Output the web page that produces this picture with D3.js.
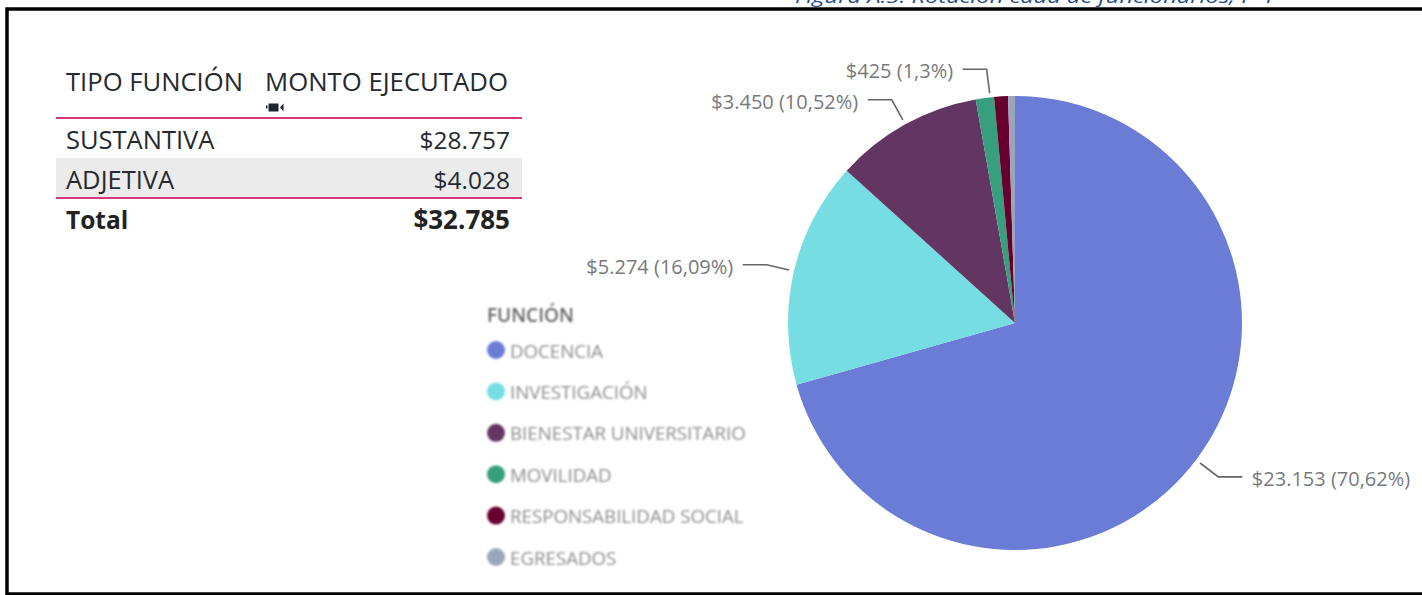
<!DOCTYPE html>
<html>
<head>
<meta charset="utf-8">
<script src="https://cdn.jsdelivr.net/npm/d3@7"></script>
<style>
html, body { margin: 0; padding: 0; background: #fff; overflow: hidden; }
svg { display: block; }
text { font-family: "Open Sans", "Noto Sans", sans-serif; }
</style>
</head>
<body>
<script>
var funciones = ["DOCENCIA", "INVESTIGACIÓN", "BIENESTAR UNIVERSITARIO", "MOVILIDAD", "RESPONSABILIDAD SOCIAL", "EGRESADOS"];
var montos = [23153, 5274, 3450, 425, 323, 160];
var etiquetas = ["$23.153 (70,62%)", "$5.274 (16,09%)", "$3.450 (10,52%)", "$425 (1,3%)", null, null];
var colores = ["#6b7cd6", "#76dee3", "#633563", "#379f7d", "#68002f", "#9aa5bc"];

var tipos = ["SUSTANTIVA", "ADJETIVA"];
var tipoMontos = ["$28.757", "$4.028"];
var encabezados = ["TIPO FUNCIÓN", "MONTO EJECUTADO"];
var totalFila = ["Total", "$32.785"];
var leyendaTitulo = "FUNCIÓN";
var figuraTitulo = "Figura A.5. Rotación cada de funcionarios, P-1";

var width = 1422, height = 595;
var svg = d3.select("body").append("svg").attr("width", width).attr("height", height);

var defs = svg.append("defs");
defs.append("filter").attr("id", "borroso")
    .attr("filterUnits", "userSpaceOnUse")
    .attr("x", 470).attr("y", 295).attr("width", 300).attr("height", 285)
    .append("feGaussianBlur").attr("stdDeviation", 1);

// caption cut off by the top of the page
svg.append("text")
    .attr("x", 795).attr("y", 3)
    .attr("font-size", 19).attr("font-style", "italic")
    .attr("fill", "#1f4e84")
    .attr("textLength", 480).attr("lengthAdjust", "spacingAndGlyphs")
    .text(figuraTitulo);

// black frame, runs off the right side
svg.append("path")
    .attr("d", "M1424,9 H7 V594 H1424")
    .attr("fill", "none").attr("stroke", "#000").attr("stroke-width", 3.5);

// table
var tabla = svg.append("g");
var filaY = d3.scaleBand().domain(tipos.concat(["Total"])).range([118, 238]);
var colorTexto = "#252a30";

tabla.append("rect")
    .attr("x", 56).attr("width", 466)
    .attr("y", filaY("ADJETIVA")).attr("height", filaY.bandwidth())
    .attr("fill", "#ebebeb");

tabla.append("text").attr("x", 66).attr("y", 91).attr("font-size", 25).attr("fill", colorTexto)
    .attr("textLength", 177).attr("lengthAdjust", "spacingAndGlyphs").text(encabezados[0]);
tabla.append("text").attr("x", 265).attr("y", 91).attr("font-size", 25).attr("fill", colorTexto)
    .attr("textLength", 243).attr("lengthAdjust", "spacingAndGlyphs").text(encabezados[1]);

// little camera under the header
tabla.append("rect").attr("x", 266).attr("y", 105.5).attr("width", 1.5).attr("height", 3).attr("fill", "#1c2530");
tabla.append("rect").attr("x", 268.5).attr("y", 103.5).attr("width", 10).attr("height", 8).attr("fill", "#1c2530");
tabla.append("path").attr("d", "M280,107.5 L283.5,103.5 V111.5 Z").attr("fill", "#1c2530");

tipos.forEach(function(t, i) {
    tabla.append("text").attr("x", 66).attr("y", filaY(t) + 30.5)
        .attr("font-size", 25.5).attr("fill", colorTexto).text(t);
    tabla.append("text").attr("x", 510).attr("y", filaY(t) + 30.5).attr("text-anchor", "end")
        .attr("font-size", 24.5).attr("fill", colorTexto).text(tipoMontos[i]);
});
tabla.append("text").attr("x", 66).attr("y", filaY("Total") + 30.5)
    .attr("font-size", 24.5).attr("font-weight", 700).attr("fill", "#222").text(totalFila[0]);
tabla.append("text").attr("x", 510).attr("y", filaY("Total") + 30.5).attr("text-anchor", "end")
    .attr("font-size", 26).attr("font-weight", 700).attr("fill", "#222").text(totalFila[1]);

[filaY("SUSTANTIVA"), filaY("Total")].forEach(function(y) {
    tabla.append("line").attr("x1", 56).attr("x2", 522).attr("y1", y).attr("y2", y)
        .attr("stroke", "#d6377f").attr("stroke-width", 2);
});

// pie
var cx = 1015, cy = 323, radio = 227;
var pie = d3.pie().sort(null).value(function(d) { return d; });
var arc = d3.arc().innerRadius(0).outerRadius(radio);
var arcos = pie(montos);
var color = d3.scaleOrdinal().domain(funciones).range(colores);

var g = svg.append("g").attr("transform", "translate(" + cx + "," + cy + ")");
g.selectAll("path.slice").data(arcos).enter().append("path")
    .attr("class", "slice")
    .attr("d", arc)
    .attr("fill", function(d, i) { return color(funciones[i]); });

// leader lines start just off the rim and bend towards the label
var arcoInicio = d3.arc().innerRadius(radio + 5).outerRadius(radio + 5);
var arcoCodo = d3.arc().innerRadius(radio + 28).outerRadius(radio + 28);
var linea = d3.line();

arcos.forEach(function(d, i) {
    if (!etiquetas[i]) return;
    var a = arcoInicio.centroid(d), b = arcoCodo.centroid(d);
    var lado = b[0] > 0 ? 1 : -1;
    // the $425 leader sits a bit right of and above its slice middle
    var esChico = etiquetas[i].indexOf("$425") == 0;
    if (esChico) { a[0] += 5.5; b[0] += 5.5; b[1] -= 1; }
    var c = [b[0] + lado * 24, b[1]];
    g.append("path")
        .attr("d", linea([a, b, c]))
        .attr("fill", "none").attr("stroke", "#666").attr("stroke-width", 1.6);
    g.append("text")
        .attr("x", c[0] + lado * 9.5).attr("y", c[1] + (esChico ? 8.5 : 9.5))
        .attr("text-anchor", lado > 0 ? "start" : "end")
        .attr("font-size", 20).attr("fill", "#77797d")
        .text(etiquetas[i]);
});

// legend, soft like the reference
var leyenda = svg.append("g").attr("filter", "url(#borroso)");
var leyendaY = d3.scalePoint().domain(funciones).range([350, 557]);

leyenda.append("text").attr("x", 487).attr("y", 322)
    .attr("font-size", 19).attr("font-weight", 600).attr("fill", "#666")
    .text(leyendaTitulo);

funciones.forEach(function(f) {
    leyenda.append("circle").attr("cx", 496).attr("cy", leyendaY(f)).attr("r", 9)
        .attr("fill", color(f));
    leyenda.append("text").attr("x", 510).attr("y", leyendaY(f) + 7.5)
        .attr("font-size", 18.7).attr("fill", "#8c8c8c")
        .text(f);
});
</script>
</body>
</html>
